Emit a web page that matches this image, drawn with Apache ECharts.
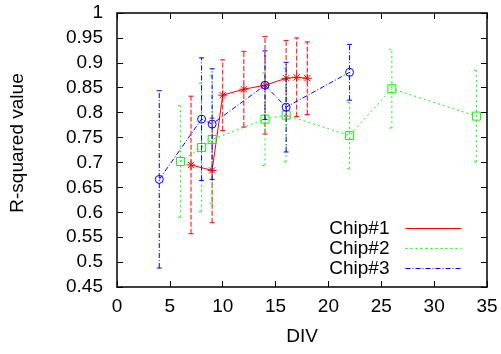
<!DOCTYPE html>
<html>
<head>
<meta charset="utf-8">
<script src="https://cdn.jsdelivr.net/npm/echarts@6/dist/echarts.min.js"></script>
<style>
html,body{margin:0;padding:0;background:#fff;}
#chart{width:501px;height:354px;}
</style>
</head>
<body>
<div id="chart"></div>
<script>
// ---- data ----
var seriesNames = ['Chip#1', 'Chip#2', 'Chip#3'];

var divChip1 = [7, 9, 10, 12, 14, 16, 17, 18];
var r2Chip1  = [0.695, 0.684, 0.835, 0.847, 0.855, 0.869, 0.871, 0.869];
var errChip1 = [0.138, 0.105, 0.071, 0.076, 0.098, 0.076, 0.079, 0.073];

var divChip2 = [6, 8, 9, 14, 16, 22, 26, 34];
var r2Chip2  = [0.702, 0.730, 0.746, 0.787, 0.795, 0.754, 0.848, 0.793];
var errChip2 = [0.112, 0.129, 0.128, 0.093, 0.094, 0.067, 0.079, 0.092];

var divChip3 = [4, 8, 9, 14, 16, 22];
var r2Chip3  = [0.666, 0.787, 0.777, 0.855, 0.811, 0.881];
var errChip3 = [0.178, 0.123, 0.111, 0.069, 0.090, 0.056];

var xMin = 0, xMax = 35, xStep = 5;
var yMin = 0.45, yMax = 1, yStep = 0.05;

// ---- styles ----
var FONT = 'Liberation Sans, Arial, Helvetica, sans-serif';
var colors = ['#ff0000', '#00ff00', '#0000ff'];
var lineDashes = [null, [2, 3], [5, 2, 1, 2]];
var errDashes = [[5, 2], [2, 3], [5, 2, 1, 2]];
var symbols = [
  'path://M0,5L10,5M5,0L5,10M1.5,1.5L8.5,8.5M1.5,8.5L8.5,1.5',
  'rect',
  'circle'
];
var symbolSizes = [9, 8, 8];

function pairs(xs, ys) { return xs.map(function (x, i) { return [x, ys[i]]; }); }
function errData(xs, ys, es) { return xs.map(function (x, i) { return [x, ys[i] - es[i], ys[i] + es[i]]; }); }

function errRenderer(color, dash) {
  return function (params, api) {
    var x = api.value(0), lo = api.value(1), hi = api.value(2);
    var pLo = api.coord([x, lo]), pHi = api.coord([x, hi]);
    var cap = 2.5;
    var st = { stroke: color, lineWidth: 1, lineDash: dash, fill: null };
    return {
      type: 'group',
      children: [
        { type: 'line', shape: { x1: pLo[0], y1: pLo[1], x2: pHi[0], y2: pHi[1] }, style: st },
        { type: 'line', shape: { x1: pLo[0] - cap, y1: pLo[1], x2: pLo[0] + cap, y2: pLo[1] }, style: st },
        { type: 'line', shape: { x1: pHi[0] - cap, y1: pHi[1], x2: pHi[0] + cap, y2: pHi[1] }, style: st }
      ]
    };
  };
}

var allX = [divChip1, divChip2, divChip3];
var allY = [r2Chip1, r2Chip2, r2Chip3];
var allE = [errChip1, errChip2, errChip3];

var series = [];
for (var k = 0; k < 3; k++) {
  series.push({
    name: seriesNames[k] + ' err',
    type: 'custom',
    xAxisIndex: 0, yAxisIndex: 0,
    renderItem: errRenderer(colors[k], errDashes[k]),
    data: errData(allX[k], allY[k], allE[k]),
    encode: { x: 0, y: [1, 2] },
    silent: true,
    z: 2 + k * 2
  });
  series.push({
    name: seriesNames[k],
    type: 'line',
    xAxisIndex: 0, yAxisIndex: 0,
    data: pairs(allX[k], allY[k]),
    symbol: symbols[k],
    symbolSize: symbolSizes[k],
    showAllSymbol: true,
    lineStyle: { color: colors[k], width: 1, type: lineDashes[k] || 'solid' },
    itemStyle: { color: k === 0 ? colors[k] : 'transparent', borderColor: colors[k], borderWidth: 1 },
    emphasis: { disabled: true },
    silent: true,
    z: 3 + k * 2
  });
}

var axisLineStyle = { color: '#000', width: 1.5 };
var tickStyle = { show: true, inside: true, length: 6, lineStyle: { color: '#000', width: 1 } };
var labelStyle = { color: '#000', fontFamily: FONT, fontSize: 19 };

var chart = echarts.init(document.getElementById('chart'), null, { renderer: 'canvas' });
chart.setOption({
  animation: false,
  backgroundColor: '#fff',
  grid: { left: 116, right: 14, top: 13, bottom: 67, containLabel: false },
  legend: {
    orient: 'vertical',
    right: 39,
    top: 219,
    padding: 0,
    align: 'right',
    itemWidth: 56,
    itemHeight: 14,
    itemGap: 1,
    data: seriesNames,
    selectedMode: false,
    itemStyle: { opacity: 0 },
    lineStyle: { width: 1 },
    textStyle: { color: '#000', fontFamily: FONT, fontSize: 19, lineHeight: 19, padding: [0, 11, 0, 0] }
  },
  xAxis: [
    {
      type: 'value', position: 'bottom', min: xMin, max: xMax, interval: xStep,
      name: 'DIV', nameLocation: 'middle', nameGap: 40,
      nameTextStyle: { color: '#000', fontFamily: FONT, fontSize: 19 },
      axisLine: { show: true, onZero: false, lineStyle: axisLineStyle },
      axisTick: tickStyle,
      axisLabel: Object.assign({ margin: 10 }, labelStyle),
      splitLine: { show: false }
    },
    {
      type: 'value', position: 'top', min: xMin, max: xMax, interval: xStep,
      axisLine: { show: true, onZero: false, lineStyle: axisLineStyle },
      axisTick: tickStyle,
      axisLabel: { show: false },
      splitLine: { show: false }
    }
  ],
  yAxis: [
    {
      type: 'value', position: 'left', min: yMin, max: yMax, interval: yStep,
      name: 'R-squared value', nameLocation: 'middle', nameGap: 90, nameRotate: 90,
      nameTextStyle: { color: '#000', fontFamily: FONT, fontSize: 19, padding: [0, 0, 0, 14] },
      axisLine: { show: true, onZero: false, lineStyle: axisLineStyle },
      axisTick: tickStyle,
      axisLabel: Object.assign({ margin: 14, formatter: function (v) { return String(parseFloat(v.toFixed(2))); } }, labelStyle),
      splitLine: { show: false }
    },
    {
      type: 'value', position: 'right', min: yMin, max: yMax, interval: yStep,
      axisLine: { show: true, onZero: false, lineStyle: axisLineStyle },
      axisTick: tickStyle,
      axisLabel: { show: false },
      splitLine: { show: false }
    }
  ],
  series: series
});
</script>
</body>
</html>
